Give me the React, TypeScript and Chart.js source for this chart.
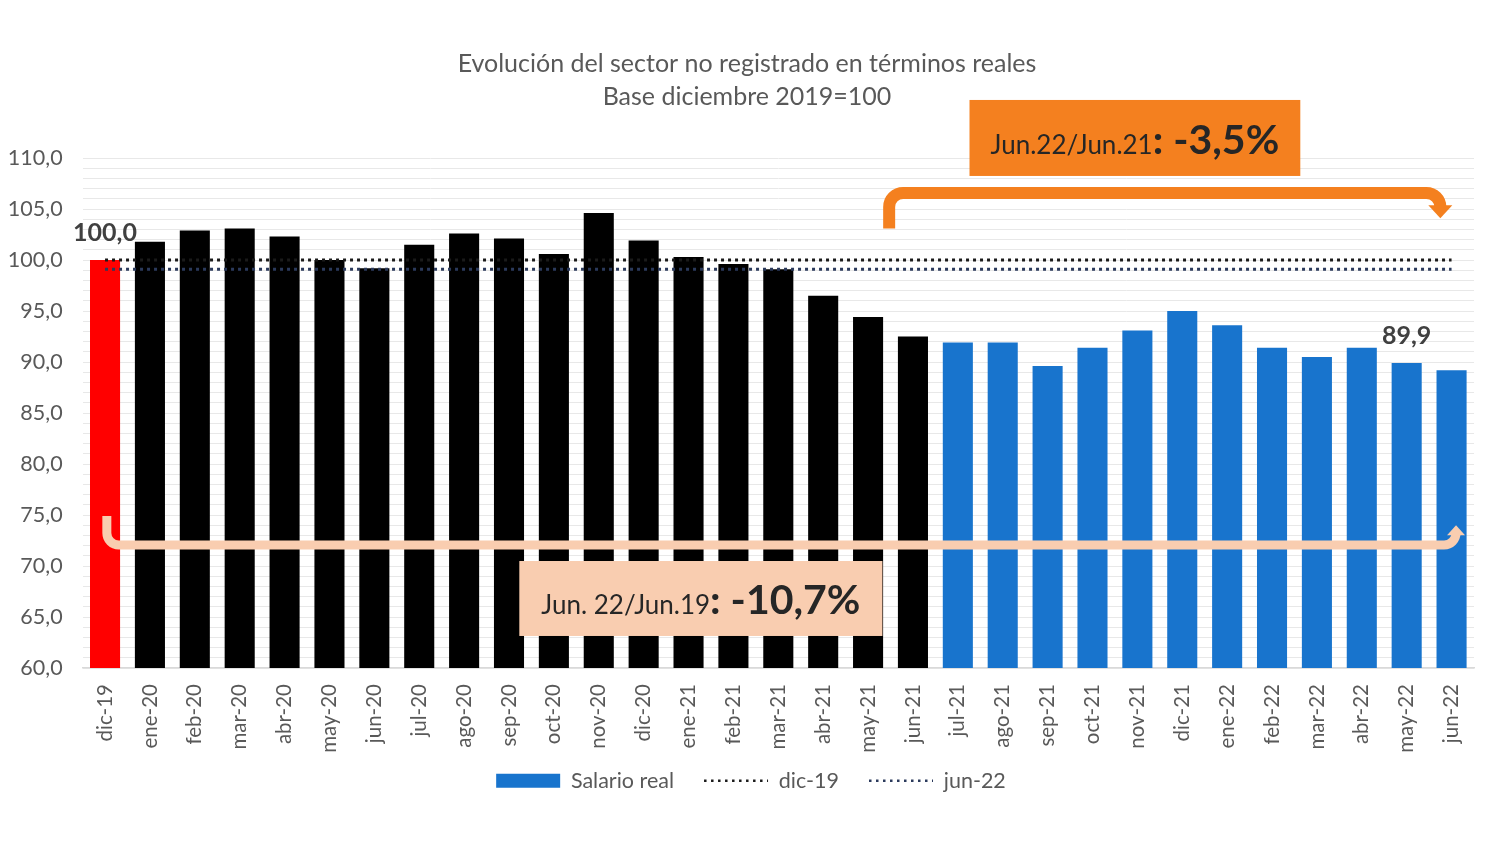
import { useEffect, useRef } from 'react';
import { Chart, registerables } from 'chart.js';

Chart.register(...registerables);

const months = [
  'dic-19', 'ene-20', 'feb-20', 'mar-20', 'abr-20', 'may-20', 'jun-20', 'jul-20',
  'ago-20', 'sep-20', 'oct-20', 'nov-20', 'dic-20', 'ene-21', 'feb-21', 'mar-21',
  'abr-21', 'may-21', 'jun-21', 'jul-21', 'ago-21', 'sep-21', 'oct-21', 'nov-21',
  'dic-21', 'ene-22', 'feb-22', 'mar-22', 'abr-22', 'may-22', 'jun-22',
];

const salarioReal = [
  100.0, 101.8, 102.9, 103.1, 102.3, 100.0, 99.2, 101.5,
  102.6, 102.1, 100.6, 104.6, 101.9, 100.3, 99.6, 99.1,
  96.5, 94.4, 92.5, 91.9, 91.9, 89.6, 91.4, 93.1,
  95.0, 93.6, 91.4, 90.5, 91.4, 89.9, 89.2,
];

// niveles de las dos líneas punteadas de referencia
const refDic19 = 100.0;
const refJun22 = 99.1;

// barras con etiqueta de valor
const labeledBars = [0, 29];

const titleLines = ['Evolución del sector no registrado en términos reales', 'Base diciembre 2019=100'];
const legendNames = ['Salario real', 'dic-19', 'jun-22'];

const FONT = 'Lato, "Open Sans", sans-serif';
const GREY_TEXT = '#595959';
const RED = '#ff0000';
const BLACK = '#000000';
const BLUE = '#1874cd';
const ORANGE = '#f4801f';
const PEACH = '#f9cdb0';
const DOT_1 = '#1a1a1a';
const DOT_2 = '#2b3a5c';

const fmt = (v: number) => v.toFixed(1).replace('.', ',');

const barColors = salarioReal.map((_, i) => (i === 0 ? RED : i <= 18 ? BLACK : BLUE));

function drawBracket(
  ctx: CanvasRenderingContext2D,
  x0: number, y0: number, yh: number, x1: number, yt: number,
  color: string, lw: number, r: number, ah: number, aw: number,
) {
  const dir = Math.sign(yt - yh);
  const baseY = yt - dir * ah;
  ctx.strokeStyle = color;
  ctx.fillStyle = color;
  ctx.lineWidth = lw;
  ctx.lineCap = 'butt';
  ctx.lineJoin = 'round';
  ctx.beginPath();
  ctx.moveTo(x0, y0);
  ctx.arcTo(x0, yh, x1, yh, r);
  ctx.arcTo(x1, yh, x1, baseY, r);
  ctx.lineTo(x1, baseY);
  ctx.stroke();
  ctx.beginPath();
  ctx.moveTo(x1 - aw, baseY);
  ctx.lineTo(x1 + aw, baseY);
  ctx.lineTo(x1, yt);
  ctx.closePath();
  ctx.fill();
}

function drawLabelBox(
  ctx: CanvasRenderingContext2D,
  left: number, top: number, right: number, bottom: number,
  fill: string, small: string, big: string,
) {
  ctx.fillStyle = fill;
  ctx.fillRect(left, top, right - left, bottom - top);
  const smallFont = `26px ${FONT}`;
  const bigFont = `bold 41px ${FONT}`;
  ctx.font = smallFont;
  const ws = ctx.measureText(small).width;
  ctx.font = bigFont;
  const wb = ctx.measureText(big).width;
  const start = (left + right) / 2 - (ws + wb) / 2;
  const baseline = bottom - 22;
  ctx.fillStyle = '#262626';
  ctx.textAlign = 'left';
  ctx.textBaseline = 'alphabetic';
  ctx.font = smallFont;
  ctx.fillText(small, start, baseline);
  ctx.font = bigFont;
  ctx.fillText(big, start + ws, baseline);
}

const overlayPlugin = {
  id: 'overlay',
  afterLayout(chart: any) {
    // ajustar leyenda y título como en el original
    const lg = chart.legend;
    if (lg) {
      lg.top -= 18;
      lg.bottom -= 18;
      lg.left += 14;
      lg.right += 14;
    }
    const tb = chart.titleBlock;
    if (tb) {
      tb.left += 10;
      tb.right += 10;
    }
  },
  afterDatasetsDraw(chart: Chart) {
    const { ctx } = chart;
    const xs = chart.scales.x;
    const ys = chart.scales.y;
    const px = (i: number) => xs.getPixelForValue(i);
    const py = (v: number) => ys.getPixelForValue(v);
    ctx.save();

    // etiquetas de valor
    ctx.font = `bold 25px ${FONT}`;
    ctx.fillStyle = '#404040';
    ctx.textAlign = 'center';
    ctx.textBaseline = 'alphabetic';
    labeledBars.forEach((i) => {
      ctx.fillText(fmt(salarioReal[i]), px(i), py(salarioReal[i]) - 19);
    });

    // flecha naranja (interanual)
    drawBracket(ctx, px(17.47), py(103.1), py(106.57), px(29.75), py(104.1), ORANGE, 12, 14, 13, 12);
    // flecha durazno (desde jun-19)
    drawBracket(ctx, px(0.04), py(74.9), py(72.06), px(30.1), py(74.0), PEACH, 9, 12, 10, 9);

    drawLabelBox(ctx, px(19.26), py(115.69), px(26.63), py(108.24), ORANGE, 'Jun.22/Jun.21', ': -3,5%');
    drawLabelBox(ctx, px(9.23), py(70.49), px(17.32), py(63.14), PEACH, 'Jun. 22/Jun.19', ': -10,7%');

    ctx.restore();
  },
};

export default function App() {
  const canvasRef = useRef<HTMLCanvasElement>(null);
  const chartRef = useRef<Chart | null>(null);

  useEffect(() => {
    if (!canvasRef.current) return;
    const ctx = canvasRef.current.getContext('2d');
    if (!ctx) return;
    if (chartRef.current) chartRef.current.destroy();

    chartRef.current = new Chart(ctx, {
      type: 'bar',
      data: {
        labels: months,
        datasets: [
          {
            type: 'bar',
            label: legendNames[0],
            data: salarioReal,
            backgroundColor: barColors,
            barPercentage: 0.67,
            categoryPercentage: 1,
            order: 2,
          },
          {
            type: 'line',
            label: legendNames[1],
            data: months.map(() => refDic19),
            borderColor: DOT_1,
            borderWidth: 3,
            borderDash: [3, 4],
            pointRadius: 0,
            fill: false,
            order: 1,
          },
          {
            type: 'line',
            label: legendNames[2],
            data: months.map(() => refJun22),
            borderColor: DOT_2,
            borderWidth: 3,
            borderDash: [3, 4],
            pointRadius: 0,
            fill: false,
            order: 1,
          },
        ],
      },
      options: {
        animation: false,
        responsive: true,
        maintainAspectRatio: false,
        layout: { padding: { top: 0, left: 0, right: 26, bottom: 23.5 } },
        plugins: {
          title: {
            display: true,
            text: titleLines,
            color: GREY_TEXT,
            font: { family: FONT, size: 25, weight: 'normal', lineHeight: 1.32 },
            padding: { top: 47.5, bottom: 44.5 },
          },
          legend: {
            position: 'bottom',
            labels: {
              usePointStyle: true,
              pointStyleWidth: 64,
              boxHeight: 14,
              padding: 30,
              color: GREY_TEXT,
              font: { family: FONT, size: 21.5 },
              generateLabels: () => [
                { text: legendNames[0], fillStyle: BLUE, strokeStyle: BLUE, lineWidth: 0, pointStyle: 'rect', hidden: false, datasetIndex: 0, fontColor: GREY_TEXT },
                { text: legendNames[1], fillStyle: 'rgba(0,0,0,0)', strokeStyle: DOT_1, lineWidth: 2.5, lineDash: [2.5, 4.5], pointStyle: 'line', hidden: false, datasetIndex: 1, fontColor: GREY_TEXT },
                { text: legendNames[2], fillStyle: 'rgba(0,0,0,0)', strokeStyle: DOT_2, lineWidth: 2.5, lineDash: [2.5, 4.5], pointStyle: 'line', hidden: false, datasetIndex: 2, fontColor: GREY_TEXT },
              ],
            },
          },
          tooltip: { enabled: false },
        },
        scales: {
          x: {
            grid: { display: false },
            border: { display: true, color: '#d9d9d9', width: 1.5 },
            ticks: {
              color: GREY_TEXT,
              font: { family: FONT, size: 20.5 },
              minRotation: 90,
              maxRotation: 90,
              padding: 8,
              autoSkip: false,
            },
            afterFit: (s: any) => { s.height = 90; },
          },
          y: {
            min: 60,
            max: 110,
            border: { display: false },
            grid: { color: '#e8e8e8', drawTicks: false },
            ticks: {
              stepSize: 1,
              autoSkip: false,
              padding: 20,
              color: GREY_TEXT,
              font: { family: FONT, size: 21.5 },
              callback: (v: any) => (Number(v) % 5 === 0 ? fmt(Number(v)) : ''),
            },
            afterFit: (s: any) => { s.width = 82.6; },
          },
        },
      },
      plugins: [overlayPlugin],
    } as any);

    return () => {
      if (chartRef.current) {
        chartRef.current.destroy();
        chartRef.current = null;
      }
    };
  }, []);

  return (
    <div style={{ position: 'fixed', left: 0, top: 0, width: 1500, height: 843, background: '#ffffff' }}>
      <canvas ref={canvasRef}></canvas>
    </div>
  );
}
